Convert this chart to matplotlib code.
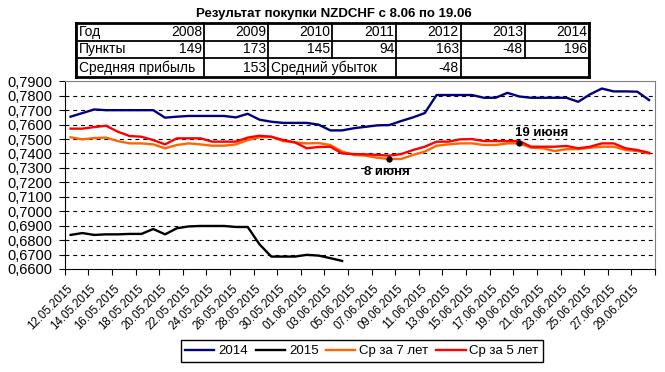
import numpy as np
import pandas as pd
import matplotlib
matplotlib.use("Agg")
import matplotlib.pyplot as plt
from matplotlib.ticker import FixedLocator, FuncFormatter

plt.rcParams['font.family'] = ['Liberation Sans', 'DejaVu Sans']

# categories: every calendar day 12.05 - 30.06
dates = pd.date_range("2015-05-12", "2015-06-30", freq="D")
date_labels = [d.strftime("%d.%m.%Y") for d in dates]

y2014 = [0.7655, 0.7680, 0.7705, 0.7700, 0.7700, 0.7700, 0.7700, 0.7700, 0.7648, 0.7655,
         0.7660, 0.7660, 0.7660, 0.7660, 0.7650, 0.7675, 0.7634, 0.7620, 0.7612, 0.7612,
         0.7612, 0.7600, 0.7560, 0.7560, 0.7575, 0.7585, 0.7595, 0.7597, 0.7625, 0.7650,
         0.7680, 0.7805, 0.7805, 0.7805, 0.7805, 0.7786, 0.7786, 0.7820, 0.7795, 0.7786,
         0.7786, 0.7786, 0.7786, 0.7758, 0.7810, 0.7850, 0.7830, 0.7830, 0.7828, 0.7770]
y2015 = [0.6836, 0.6849, 0.6836, 0.6840, 0.6840, 0.6843, 0.6843, 0.6877, 0.6840, 0.6882,
         0.6895, 0.6898, 0.6898, 0.6898, 0.6891, 0.6891, 0.6771, 0.6686, 0.6686, 0.6686,
         0.6698, 0.6693, 0.6675, 0.6656]
avg7 = [0.7512, 0.7498, 0.7507, 0.7510, 0.7486, 0.7470, 0.7470, 0.7463, 0.7436, 0.7459,
        0.7470, 0.7463, 0.7454, 0.7454, 0.7463, 0.7493, 0.7512, 0.7516, 0.7486, 0.7477,
        0.7470, 0.7472, 0.7459, 0.7413, 0.7390, 0.7385, 0.7370, 0.7362, 0.7362, 0.7390,
        0.7413, 0.7454, 0.7463, 0.7470, 0.7470, 0.7459, 0.7459, 0.7470, 0.7470, 0.7440,
        0.7436, 0.7417, 0.7430, 0.7430, 0.7440, 0.7447, 0.7447, 0.7424, 0.7417, 0.7400]
avg5 = [0.7572, 0.7572, 0.7583, 0.7592, 0.7551, 0.7521, 0.7516, 0.7493, 0.7463, 0.7505,
        0.7505, 0.7505, 0.7482, 0.7482, 0.7482, 0.7510, 0.7523, 0.7516, 0.7493, 0.7477,
        0.7436, 0.7445, 0.7447, 0.7400, 0.7396, 0.7394, 0.7390, 0.7385, 0.7396, 0.7424,
        0.7447, 0.7482, 0.7482, 0.7498, 0.7500, 0.7486, 0.7486, 0.7486, 0.7486, 0.7447,
        0.7447, 0.7447, 0.7452, 0.7436, 0.7447, 0.7470, 0.7470, 0.7436, 0.7424, 0.7405]

# table above the chart
years = ["2008", "2009", "2010", "2011", "2012", "2013", "2014"]
points = [149, 173, 145, 94, 163, -48, 196]
avg_profit = 153
avg_loss = -48
marks = {"8 июня": "08.06.2015", "19 июня": "19.06.2015"}

W, H = 665, 372
fig = plt.figure(figsize=(W / 100, H / 100), dpi=100)
ax = fig.add_axes([64.7 / W, 1 - 269 / H, (655 - 64.7) / W, (269 - 81.3) / H])

x = np.arange(len(dates))
ax.plot(x, y2014, color="#000080", lw=1.7, label="2014", zorder=3)
ax.plot(x[:len(y2015)], y2015, color="black", lw=1.7, label="2015", zorder=3)
ax.plot(x, avg7, color="#FF6600", lw=1.7, label="Ср за 7 лет", zorder=3)
ax.plot(x, avg5, color="#FF0000", lw=1.7, label="Ср за 5 лет", zorder=3)

# marked days on the 7-year average
for txt, d in marks.items():
    i = date_labels.index(d)
    ax.plot(x[i], avg7[i], "o", color="black", ms=3.5, zorder=4)
    if txt == "8 июня":
        ax.annotate(txt, (x[i], avg7[i]), xytext=(-2, -5), textcoords="offset points",
                    ha="center", va="top", fontsize=9.5, fontweight="bold")
    else:
        ax.annotate(txt, (x[i], avg7[i]), xytext=(-3, 3), textcoords="offset points",
                    ha="left", va="bottom", fontsize=9.5, fontweight="bold")

ax.set_xlim(-0.5, len(dates) - 0.5)
ax.set_ylim(0.66, 0.79)
yt = np.round(np.arange(0.66, 0.7901, 0.01), 2)
ax.set_yticks(yt)
ax.yaxis.set_major_formatter(FuncFormatter(lambda v, p: f"{v:.4f}".replace(".", ",")))
for v in yt[1:-1]:
    ax.axhline(v, color="black", lw=0.8, ls=(0, (3.5, 3.5)), zorder=1)

ax.xaxis.set_major_locator(FixedLocator(np.arange(-0.5, len(dates), 2)))
ax.xaxis.set_minor_locator(FixedLocator(x[::2]))
ax.set_xticklabels([], minor=False)
ax.set_xticklabels(date_labels[::2], minor=True, rotation=45, ha="right",
                   va="center", rotation_mode="anchor", fontsize=8.3)
ax.tick_params(axis="x", which="minor", length=0, pad=13)
ax.tick_params(axis="x", which="major", length=4, direction="out")
ax.tick_params(axis="y", length=4, direction="out", labelsize=10.5, pad=5)
for s in ["top", "right"]:
    ax.spines[s].set_color("#808080")
for s in ["left", "bottom"]:
    ax.spines[s].set_color("black")

fig.legend(loc="center", bbox_to_anchor=(362 / W, 1 - 351 / H), ncol=4, fontsize=9.5,
           frameon=True, fancybox=False, edgecolor="black", framealpha=1,
           handlelength=2.2, handletextpad=0.3, columnspacing=0.6, borderpad=0.35)

# overlay in pixel coordinates for the title and the table
ov = fig.add_axes([0, 0, 1, 1], zorder=5)
ov.set_xlim(0, W)
ov.set_ylim(H, 0)
ov.axis("off")
ov.patch.set_alpha(0)

ov.text(333.7, 14, "Результат покупки NZDCHF с 8.06 по 19.06", ha="center", va="center",
        fontsize=9.5, fontweight="bold")

col_x = [75.7 + 64.16 * k for k in range(9)]
row_y = [22.7, 40.7, 57.7, 77.3]
ov.add_patch(plt.Rectangle((col_x[0], row_y[0]), col_x[8] - col_x[0], row_y[3] - row_y[0],
                           facecolor="white", edgecolor="none"))
fs = 10
for r, (label, vals) in enumerate([("Год", years), ("Пункты", points)]):
    yc = (row_y[r] + row_y[r + 1]) / 2
    ov.text(col_x[0] + 3, yc, label, ha="left", va="center", fontsize=fs)
    for k, v in enumerate(vals):
        ov.text(col_x[k + 2] - 2, yc, str(v), ha="right", va="center", fontsize=fs)
    for c in [0] + list(range(2, 9)):
        ov.plot([col_x[c]] * 2, [row_y[r], row_y[r + 1]], color="black", lw=1.3)
yc = (row_y[2] + row_y[3]) / 2
ov.text(col_x[0] + 3, yc, "Средняя прибыль", ha="left", va="center", fontsize=fs)
ov.text(col_x[3] - 2, yc, str(avg_profit), ha="right", va="center", fontsize=fs)
ov.text(col_x[3] + 3, yc, "Средний убыток", ha="left", va="center", fontsize=fs)
ov.text(col_x[6] - 2, yc, str(avg_loss), ha="right", va="center", fontsize=fs)
for c in [0, 2, 3, 5, 6, 8]:
    ov.plot([col_x[c]] * 2, [row_y[2], row_y[3]], color="black", lw=1.3)
for r, yy in enumerate(row_y):
    ov.plot([col_x[0], col_x[8]], [yy, yy], color="black", lw=2 if r in (0, 3) else 1.3)
ov.plot([col_x[0]] * 2, [row_y[0], row_y[3]], color="black", lw=2)
ov.plot([col_x[8]] * 2, [row_y[0], row_y[3]], color="black", lw=2)

fig.savefig("out.png", dpi=100)
